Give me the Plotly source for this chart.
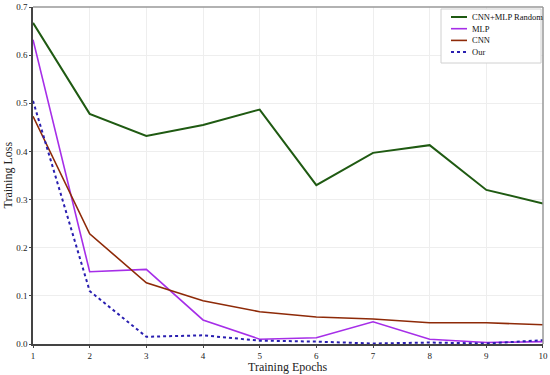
import plotly.graph_objects as go

epochs = [1, 2, 3, 4, 5, 6, 7, 8, 9, 10]
cnn_mlp_random = [0.667, 0.478, 0.432, 0.455, 0.487, 0.330, 0.397, 0.413, 0.320, 0.292]
mlp = [0.632, 0.150, 0.155, 0.050, 0.010, 0.013, 0.046, 0.010, 0.003, 0.005]
cnn = [0.473, 0.229, 0.127, 0.090, 0.067, 0.056, 0.052, 0.044, 0.044, 0.040]
our = [0.505, 0.110, 0.015, 0.018, 0.007, 0.005, 0.001, 0.003, 0.001, 0.008]
x_ticks = [1, 2, 3, 4, 5, 6, 7, 8, 9, 10]
y_ticks = [0.0, 0.1, 0.2, 0.3, 0.4, 0.5, 0.6, 0.7]

series = [
    ("CNN+MLP Random", cnn_mlp_random, "#1f5a12", 2.0, "solid"),
    ("MLP", mlp, "#a62ee8", 1.6, "solid"),
    ("CNN", cnn, "#8e2a08", 1.6, "solid"),
    ("Our", our, "#2a1fb0", 2.0, "dot"),
]

fig = go.Figure()
for name, vals, color, w, dash in series:
    fig.add_trace(go.Scatter(x=epochs, y=vals, mode="lines", name=name,
                             line=dict(color=color, width=w, dash=dash),
                             showlegend=False))

W, H = 550, 375
ml, mr, mt, mb = 33, 7, 7, 31
pw, ph = W - ml - mr, H - mt - mb

def px_x(p):
    return (p - ml) / pw

def px_y(p):
    return 1 - (p - mt) / ph

fig.update_layout(
    width=W, height=H,
    margin=dict(l=ml, r=mr, t=mt, b=mb),
    paper_bgcolor="white", plot_bgcolor="white",
    font=dict(family="Liberation Serif, Times New Roman, serif", color="#222", size=9),
    showlegend=False,
)
fig.update_xaxes(range=[0.9999, 10.0001], tickvals=x_ticks, showgrid=True, gridcolor="#eeeeee",
                 showline=True, linecolor="#444", linewidth=1.5,
                 ticks="outside", ticklen=2, tickcolor="#444",
                 automargin=False, zeroline=False)
fig.update_yaxes(range=[0, 0.7], tickvals=y_ticks, tickformat=".1f", showgrid=True,
                 gridcolor="#eeeeee", showline=True, linecolor="#444", linewidth=1.5,
                 ticks="outside", ticklen=2, tickcolor="#444",
                 automargin=False, zeroline=False)

# axis titles
fig.add_annotation(text="Training Epochs", xref="paper", yref="paper",
                   x=px_x(288), y=px_y(367), xanchor="center", yanchor="middle",
                   showarrow=False, font=dict(size=12))
fig.add_annotation(text="Training Loss", xref="paper", yref="paper",
                   x=px_x(7), y=0.5, xanchor="center", yanchor="middle",
                   textangle=-90, showarrow=False, font=dict(size=12))

# top and right border (lighter)
fig.add_shape(type="line", xref="paper", yref="paper", x0=0, x1=1, y0=1, y1=1,
              line=dict(color="#999", width=1.5))
fig.add_shape(type="line", xref="paper", yref="paper", x0=1, x1=1, y0=0, y1=1,
              line=dict(color="#999", width=1.5))

# legend box
fig.add_shape(type="rect", xref="paper", yref="paper",
              x0=px_x(441), x1=px_x(541), y0=px_y(63), y1=px_y(9),
              line=dict(color="#d0d0d0", width=1), fillcolor="white", layer="above")
for i, (name, vals, color, w, dash) in enumerate(series):
    yy = 17 + i * 11.7
    fig.add_shape(type="line", xref="paper", yref="paper",
                  x0=px_x(451), x1=px_x(467), y0=px_y(yy), y1=px_y(yy),
                  line=dict(color=color, width=w, dash=dash), layer="above")
    fig.add_annotation(text=name, xref="paper", yref="paper",
                       x=px_x(470), y=px_y(yy), xanchor="left", yanchor="middle",
                       showarrow=False, font=dict(size=8.5, color="#111"))

fig.write_html("out.html", config={"displayModeBar": False},
               post_script="document.body.style.margin='0';document.body.style.overflow='hidden';")
